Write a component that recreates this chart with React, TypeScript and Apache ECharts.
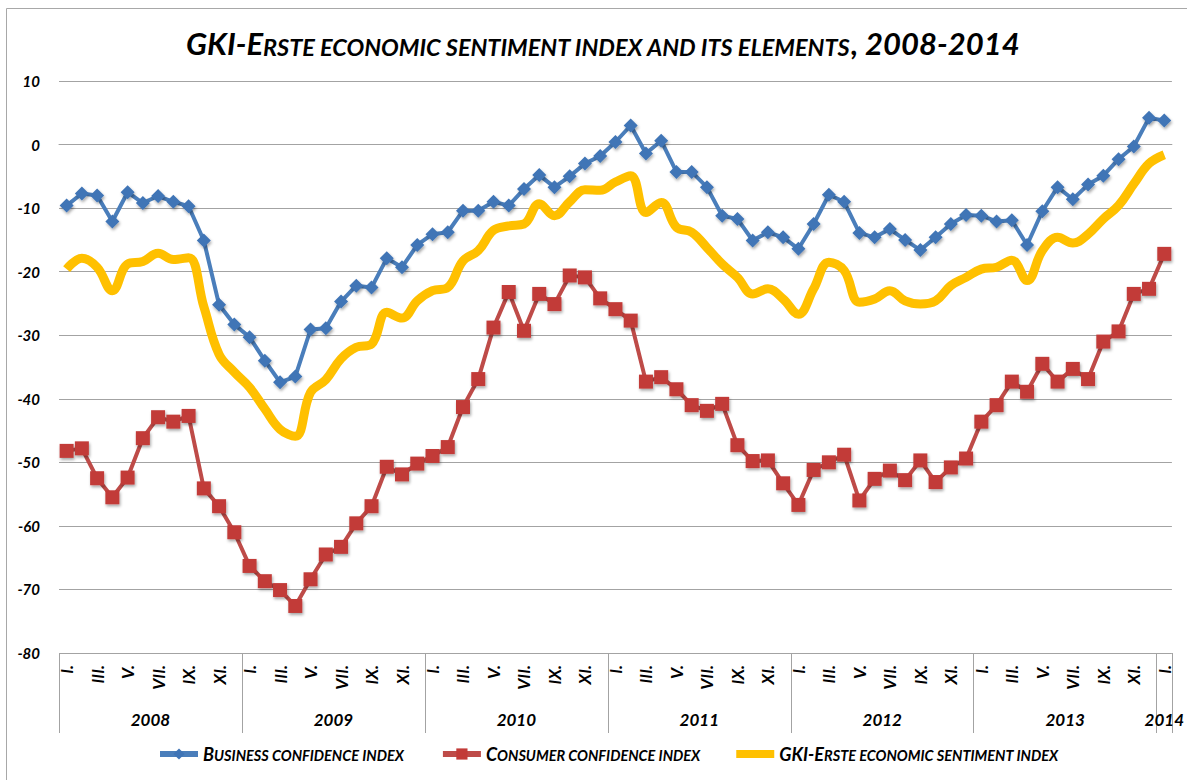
import React, { useEffect, useRef } from "react";
import * as echarts from "echarts";

const titleText = "GKI-Erste economic sentiment index and its elements, 2008-2014";
const months = ["I.", "II.", "III.", "IV.", "V.", "VI.", "VII.", "VIII.", "IX.", "X.", "XI.", "XII."];
const years = ["2008", "2009", "2010", "2011", "2012", "2013", "2014"];
const monthsPerYear = [12, 12, 12, 12, 12, 12, 1];
const yTicks = { min: -80, max: 10, interval: 10 };

const seriesNames = [
  "Business confidence index",
  "Consumer confidence index",
  "GKI-Erste economic sentiment index",
];

const business = [
  -9.6, -7.7, -8.0, -12.1, -7.5, -9.2, -8.1, -9.0, -9.7, -15.1,
  -25.2, -28.3, -30.3, -34.0, -37.4, -36.5, -29.1, -28.9, -24.7, -22.2,
  -22.5, -17.9, -19.3, -15.8, -14.1, -13.8, -10.4, -10.4, -9.0, -9.6,
  -7.0, -4.8, -6.7, -5.0, -3.0, -1.8, 0.4, 3.0, -1.4, 0.6,
  -4.3, -4.3, -6.7, -11.2, -11.7, -15.1, -13.8, -14.6, -16.4, -12.5,
  -7.9, -9.0, -13.9, -14.6, -13.3, -15.0, -16.6, -14.6, -12.5, -11.1,
  -11.2, -12.1, -11.9, -15.8, -10.5, -6.7, -8.6, -6.3, -4.9, -2.3,
  -0.3, 4.2, 3.8,
];

const consumer = [
  -48.2, -47.8, -52.5, -55.5, -52.4, -46.2, -42.9, -43.6, -42.7, -54.1,
  -56.9, -61.0, -66.3, -68.7, -70.1, -72.6, -68.4, -64.5, -63.3, -59.6,
  -56.9, -50.7, -51.9, -50.2, -49.0, -47.6, -41.3, -36.9, -28.8, -23.2,
  -29.3, -23.5, -25.1, -20.6, -20.9, -24.2, -25.9, -27.7, -37.3, -36.6,
  -38.5, -41.0, -41.9, -40.8, -47.3, -49.8, -49.7, -53.3, -56.7, -51.2,
  -50.0, -48.8, -56.0, -52.6, -51.3, -52.8, -49.7, -53.1, -50.8, -49.4,
  -43.6, -41.0, -37.3, -38.9, -34.5, -37.3, -35.3, -36.9, -31.0, -29.4,
  -23.5, -22.7, -17.2,
];

const gki = [
  -19.6, -17.9, -19.3, -23.0, -18.8, -18.4, -17.1, -18.1, -17.8, -25.5,
  -33.0, -35.8, -38.2, -41.6, -44.8, -45.9, -39.0, -37.0, -33.7, -31.9,
  -31.4, -26.4, -27.3, -24.6, -23.0, -22.5, -18.3, -16.7, -13.5, -12.8,
  -12.5, -9.3, -11.2, -9.0, -7.1, -7.2, -5.9, -4.9, -10.7, -9.1,
  -13.0, -13.8, -16.2, -18.8, -20.9, -23.5, -22.7, -24.3, -26.7, -22.7,
  -18.5, -19.8, -24.8, -24.3, -23.0, -24.6, -25.1, -24.6, -22.2, -20.9,
  -19.6, -19.3, -18.2, -21.4, -16.7, -14.6, -15.5, -14.1, -11.7, -9.6,
  -6.2, -3.0, -1.6,
];

const FONT = "Lato, 'Open Sans', 'DejaVu Sans', sans-serif";

// Small-caps rich text: capitals and non-letters big, lowercase letters as small capitals
function smallCaps(s: string, big: string, small: string): string {
  const runs: { k: string; t: string }[] = [];
  for (const ch of s) {
    const isLower = ch !== ch.toUpperCase();
    const isSpace = ch === " ";
    let k = isLower ? small : big;
    if (isSpace && runs.length) k = runs[runs.length - 1].k;
    if (runs.length && runs[runs.length - 1].k === k) runs[runs.length - 1].t += ch.toUpperCase();
    else runs.push({ k, t: ch.toUpperCase() });
  }
  return runs.map((r) => `{${r.k}|${r.t}}`).join("");
}

export default function App() {
  const ref = useRef<HTMLDivElement>(null);

  useEffect(() => {
    if (!ref.current) return;
    const chart = echarts.init(ref.current, undefined, { renderer: "svg" });

    const categories: string[] = [];
    monthsPerYear.forEach((n) => {
      for (let m = 0; m < n; m++) categories.push(months[m]);
    });
    const yearBounds: number[] = [0];
    monthsPerYear.forEach((n) => yearBounds.push(yearBounds[yearBounds.length - 1] + n));
    const total = yearBounds[yearBounds.length - 1];
    const yearMids = years.map((_, i) => (yearBounds[i] + yearBounds[i + 1]) / 2);

    const txt = { fontFamily: FONT, fontWeight: "bold" as const, fontStyle: "italic" as const, color: "#000" };
    const gridColor = "#a3a3a3";
    const markerShadow = {
      shadowBlur: 3,
      shadowColor: "rgba(0,0,0,0.35)",
      shadowOffsetX: 1,
      shadowOffsetY: 2,
    };

    const option: any = {
      animation: false,
      backgroundColor: "#fff",
      title: {
        text: smallCaps(titleText, "tb", "ts"),
        left: 181,
        top: 22,
        textStyle: {
          rich: {
            tb: { ...txt, fontSize: 31, verticalAlign: "bottom" },
            ts: { ...txt, fontSize: 23.5, verticalAlign: "bottom" },
          },
        },
      },
      graphic: [
        {
          type: "rect",
          silent: true,
          z: -10,
          shape: { x: 6.5, y: 8.5, width: 1200, height: 800 },
          style: { fill: "none", stroke: "#a8a8a8", lineWidth: 1 },
        },
      ],
      legend: {
        left: 152,
        bottom: 12,
        itemGap: 36,
        itemWidth: 38,
        itemHeight: 14,
        lineStyle: { width: 6 },
        data: [
          { name: seriesNames[0] },
          { name: seriesNames[1] },
          { name: seriesNames[2], icon: "path://M0,0h38v8h-38z" },
        ],
        formatter: (name: string) => smallCaps(name, "lb", "ls"),
        textStyle: {
          rich: {
            lb: { ...txt, fontSize: 18, verticalAlign: "bottom" },
            ls: { ...txt, fontSize: 14.5, verticalAlign: "bottom" },
          },
        },
      },
      grid: { left: 59, right: 10, top: 81, bottom: 127, containLabel: false },
      xAxis: [
        {
          type: "category",
          data: categories,
          boundaryGap: true,
          position: "bottom",
          axisLine: { show: true, lineStyle: { color: gridColor, width: 1 } },
          axisTick: { show: false },
          axisLabel: { ...txt, interval: 1, rotate: 90, margin: 12, fontSize: 17 },
          splitLine: { show: false },
        },
        {
          type: "value",
          min: 0,
          max: total,
          interval: 12,
          position: "bottom",
          axisLine: { show: false },
          axisTick: { show: true, length: 80, lineStyle: { color: gridColor, width: 1 } },
          axisLabel: { show: false },
          splitLine: { show: false },
        },
        {
          type: "value",
          min: 0,
          max: total,
          interval: 0.5,
          position: "bottom",
          axisLine: { show: false },
          axisTick: { show: false },
          splitLine: { show: false },
          axisLabel: {
            ...txt,
            fontSize: 17,
            margin: 58,
            formatter: (v: number) => {
              const i = yearMids.findIndex((m) => Math.abs(m - v) < 1e-6);
              return i >= 0 ? years[i] : "";
            },
          },
        },
      ],
      yAxis: {
        type: "value",
        min: yTicks.min,
        max: yTicks.max,
        interval: yTicks.interval,
        axisLine: { show: false },
        axisTick: { show: false },
        axisLabel: { ...txt, fontSize: 15, margin: 19 },
        splitLine: { lineStyle: { color: gridColor, width: 1 } },
      },
      series: [
        {
          name: seriesNames[0],
          type: "line",
          xAxisIndex: 0,
          data: business,
          symbol: "diamond",
          symbolSize: 14,
          showAllSymbol: true,
          lineStyle: { color: "#4A7EBB", width: 4 },
          itemStyle: { color: "#3F74B6", ...markerShadow },
        },
        {
          name: seriesNames[1],
          type: "line",
          xAxisIndex: 0,
          data: consumer,
          symbol: "rect",
          symbolSize: 14,
          showAllSymbol: true,
          lineStyle: { color: "#BE4B48", width: 4 },
          itemStyle: { color: "#C23B38", ...markerShadow },
        },
        {
          name: seriesNames[2],
          type: "line",
          xAxisIndex: 0,
          data: gki,
          smooth: 0.4,
          showSymbol: false,
          symbol: "none",
          lineStyle: { color: "#FFC000", width: 9 },
          itemStyle: { color: "#FFC000" },
        },
      ],
    };

    chart.setOption(option);
    return () => chart.dispose();
  }, []);

  return (
    <div
      ref={ref}
      style={{ position: "fixed", left: 0, top: 0, width: 1187, height: 780, background: "#fff" }}
    />
  );
}
